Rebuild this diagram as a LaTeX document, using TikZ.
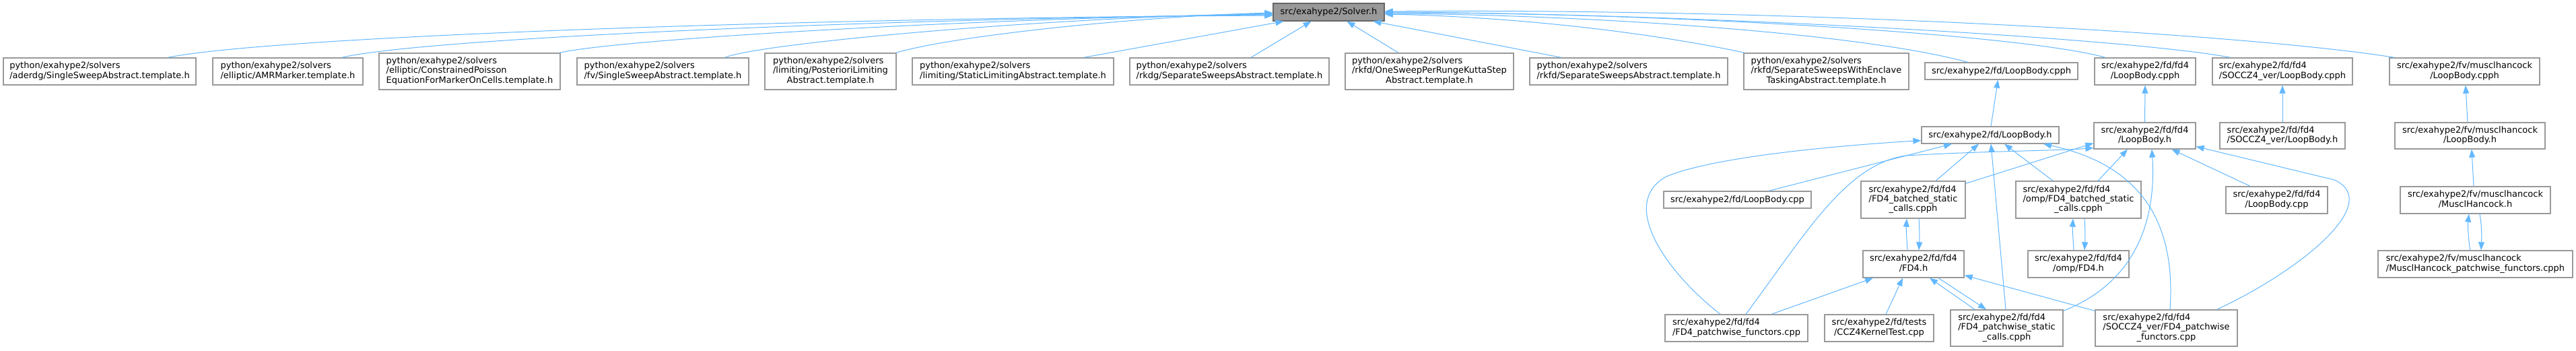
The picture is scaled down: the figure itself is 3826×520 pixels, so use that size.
\documentclass[tikz,border=0pt]{standalone}
\usepackage{fontspec}
\setmainfont{DejaVu Sans}
\usetikzlibrary{arrows.meta,calc}
\definecolor{edgeblue}{HTML}{63B8FF}
\definecolor{boxgray}{HTML}{999999}
\definecolor{solverfill}{HTML}{999999}
\definecolor{solverborder}{HTML}{666666}
\newcommand\ntxt[1]{\begin{tabular}{@{}l@{}}#1\end{tabular}}
\newcommand\lastln[1]{\multicolumn{1}{@{}c@{}}{#1}}
\tikzset{
  box/.style={draw=boxgray, line width=1.3pt, fill=white, inner sep=0pt,
    font=\fontsize{13}{14.3}\selectfont},
  hl/.style={box, minimum height=25pt},
  h2/.style={box, minimum height=40pt},
  h3/.style={box, minimum height=54pt},
  edge/.style={draw=edgeblue, line width=1pt, -{Triangle[length=12pt,width=9pt]}},
}
\begin{document}
\begin{tikzpicture}[x=1pt,y=-1pt]
\fill[white] (0,0) rectangle (3826,520);
\path[use as bounding box] (0,0) rectangle (3826,520);

% top
\node[box, fill=solverfill, draw=solverborder, minimum width=165pt, minimum height=26pt] (Solver) at (1973.5,18) {src/exahype2/Solver.h};

% row 2
\node[h2, minimum width=286pt] (aderdg) at (148,106) {\ntxt{python/exahype2/solvers\\\lastln{/aderdg/SingleSweepAbstract.template.h}}};
\node[h2, minimum width=223pt] (amr) at (427.5,106) {\ntxt{python/exahype2/solvers\\\lastln{/elliptic/AMRMarker.template.h}}};
\node[h3, minimum width=269pt] (cons) at (697.5,106) {\ntxt{python/exahype2/solvers\\/elliptic/ConstrainedPoisson\\\lastln{EquationForMarkerOnCells.template.h}}};
\node[h2, minimum width=255pt] (fv) at (984.5,106) {\ntxt{python/exahype2/solvers\\\lastln{/fv/SingleSweepAbstract.template.h}}};
\node[h3, minimum width=195pt] (post) at (1233.5,106) {\ntxt{python/exahype2/solvers\\/limiting/PosterioriLimiting\\\lastln{Abstract.template.h}}};
\node[h2, minimum width=299pt] (stat) at (1504.5,106) {\ntxt{python/exahype2/solvers\\\lastln{/limiting/StaticLimitingAbstract.template.h}}};
\node[h2, minimum width=296pt] (rkdg) at (1826,106) {\ntxt{python/exahype2/solvers\\\lastln{/rkdg/SeparateSweepsAbstract.template.h}}};
\node[h3, minimum width=250pt] (one) at (2123,106) {\ntxt{python/exahype2/solvers\\/rkfd/OneSweepPerRungeKuttaStep\\\lastln{Abstract.template.h}}};
\node[h2, minimum width=294pt] (rksep) at (2419,106) {\ntxt{python/exahype2/solvers\\\lastln{/rkfd/SeparateSweepsAbstract.template.h}}};
\node[h3, minimum width=245pt] (encl) at (2712.5,106) {\ntxt{python/exahype2/solvers\\/rkfd/SeparateSweepsWithEnclave\\\lastln{TaskingAbstract.template.h}}};
\node[hl, minimum width=227pt] (fdLBcpph) at (2972.5,105.5) {src/exahype2/fd/LoopBody.cpph};
\node[h2, minimum width=150pt] (fdfLBcpph) at (3186,106) {\ntxt{src/exahype2/fd/fd4\\\lastln{/LoopBody.cpph}}};
\node[h2, minimum width=208pt] (socLBcpph) at (3390,106) {\ntxt{src/exahype2/fd/fd4\\\lastln{/SOCCZ4\_ver/LoopBody.cpph}}};
\node[h2, minimum width=223pt] (muscLBcpph) at (3660.5,106) {\ntxt{src/exahype2/fv/musclhancock\\\lastln{/LoopBody.cpph}}};

% row 3
\node[hl, minimum width=204pt] (fdLBh) at (2956,200.5) {src/exahype2/fd/LoopBody.h};
\node[box, minimum height=39pt, minimum width=151pt] (fdfLBh) at (3185.5,201.5) {\ntxt{src/exahype2/fd/fd4\\\lastln{/LoopBody.h}}};
\node[box, minimum height=39pt, minimum width=186pt] (socLBh) at (3390,201.5) {\ntxt{src/exahype2/fd/fd4\\\lastln{/SOCCZ4\_ver/LoopBody.h}}};
\node[box, minimum height=39pt, minimum width=223pt] (muscLBh) at (3668.5,201.5) {\ntxt{src/exahype2/fv/musclhancock\\\lastln{/LoopBody.h}}};

% row 4
\node[hl, minimum width=219pt] (fdLBcpp) at (2580.5,296.5) {src/exahype2/fd/LoopBody.cpp};
\node[box, minimum height=55pt, minimum width=155pt] (batched) at (2841.5,296.5) {\ntxt{src/exahype2/fd/fd4\\/FD4\_batched\_static\\\lastln{\_calls.cpph}}};
\node[box, minimum height=55pt, minimum width=186pt] (ompbatched) at (3087,296.5) {\ntxt{src/exahype2/fd/fd4\\/omp/FD4\_batched\_static\\\lastln{\_calls.cpph}}};
\node[h2, minimum width=151pt] (fdfLBcpp) at (3381.5,297) {\ntxt{src/exahype2/fd/fd4\\\lastln{/LoopBody.cpp}}};
\node[h2, minimum width=223pt] (muscH) at (3676.5,297) {\ntxt{src/exahype2/fv/musclhancock\\\lastln{/MusclHancock.h}}};

% row 5
\node[h2, minimum width=150pt] (fdfh) at (2842,392) {\ntxt{src/exahype2/fd/fd4\\\lastln{/FD4.h}}};
\node[h2, minimum width=150pt] (ompfdfh) at (3087,392) {\ntxt{src/exahype2/fd/fd4\\\lastln{/omp/FD4.h}}};
\node[h2, minimum width=289pt] (muscPatch) at (3676.5,392) {\ntxt{src/exahype2/fv/musclhancock\\\lastln{/MusclHancock\_patchwise\_functors.cpph}}};

% row 6
\node[h2, minimum width=212pt] (fdfpf) at (2579,487) {\ntxt{src/exahype2/fd/fd4\\\lastln{/FD4\_patchwise\_functors.cpp}}};
\node[h2, minimum width=162pt] (ccz) at (2791,487) {\ntxt{src/exahype2/fd/tests\\\lastln{/CCZ4KernelTest.cpp}}};
\node[h3, minimum width=167pt] (fdfpsc) at (2980.5,487) {\ntxt{src/exahype2/fd/fd4\\/FD4\_patchwise\_static\\\lastln{\_calls.cpph}}};
\node[h3, minimum width=211pt] (socpf) at (3217.5,487) {\ntxt{src/exahype2/fd/fd4\\/SOCCZ4\_ver/FD4\_patchwise\\\lastln{\_functors.cpp}}};

% ---- edges to Solver.h
\draw[edge] ($(aderdg.north)+(101,0)$) .. controls (420,52) and (1250,26) .. ($(Solver.west)+(0,5)$);
\draw[edge] ($(amr.north)+(80,0)$) .. controls (640,55) and (1350,27) .. ($(Solver.west)+(0,4)$);
\draw[edge] ($(cons.north east)+(-2,0)$) .. controls (920,58) and (1450,27) .. ($(Solver.west)+(0,3)$);
\draw[edge] ($(fv.north)+(92,0)$) .. controls (1130,64) and (1550,26) .. ($(Solver.west)+(0,2)$);
\draw[edge] ($(post.north east)+(-1,0)$) .. controls (1420,52) and (1700,24) .. ($(Solver.west)+(0,1)$);
\draw[edge] ($(stat.north)+(105,0)$) -- ($(Solver.south)+(-67,0)$);
\draw[edge] ($(rkdg.north)+(32,0)$) -- ($(Solver.south)+(-26,0)$);
\draw[edge] ($(one.north)+(-46,0)$) -- ($(Solver.south)+(27,0)$);
\draw[edge] ($(rksep.north)+(-100,0)$) -- ($(Solver.south)+(66,0)$);
\draw[edge] ($(encl.north west)+(2,0)$) .. controls (2450,48) and (2250,25) .. ($(Solver.east)+(0,3)$);
\draw[edge] ($(fdLBcpph.north)+(-50,0)$) .. controls (2760,48) and (2350,22) .. ($(Solver.east)+(0,2)$);
\draw[edge] ($(fdfLBcpph.north)+(-59,0)$) .. controls (3000,50) and (2450,18) .. ($(Solver.east)+(0,1)$);
\draw[edge] ($(socLBcpph.north)+(-77,0)$) .. controls (3150,55) and (2500,20) .. ($(Solver.east)+(0,0)$);
\draw[edge] ($(muscLBcpph.north)+(-104,0)$) .. controls (3320,48) and (2650,12) .. ($(Solver.east)+(0,-1)$);

% ---- lower edges
\draw[edge] ($(fdLBh.north)+(1,0)$) -- ($(fdLBcpph.south)+(-5,0)$);
\draw[edge] (fdfLBh.north) -- (fdfLBcpph.south);
\draw[edge] (socLBh.north) -- (socLBcpph.south);
\draw[edge] ($(muscLBh.north)+(-3.5,0)$) -- ($(muscLBcpph.south)+(1.5,0)$);
\draw[edge] ($(muscH.north)+(-2.5,0)$) -- ($(muscLBh.south)+(2.5,0)$);
\draw[edge] ($(muscPatch.north)+(-8,0)$) .. controls (3666,350) and (3665,335) .. ($(muscH.south)+(-9.5,0)$);
\draw[edge] ($(muscH.south)+(6.5,0)$) .. controls (3686,335) and (3686,350) .. ($(muscPatch.north)+(8.5,0)$);

\draw[edge] ($(fdLBcpp.north)+(46.5,0)$) -- ($(fdLBh.south)+(-57,0)$);
\draw[edge] ($(batched.north)+(33.5,0)$) -- ($(fdLBh.south)+(-17,0)$);
\draw[edge] ($(batched.north east)+(0,4)$) -- ($(fdfLBh.west)+(0,11)$);
\draw[edge] ($(ompbatched.north)+(-38,0)$) -- ($(fdLBh.south)+(21,0)$);
\draw[edge] ($(ompbatched.north)+(29,0)$) -- ($(fdfLBh.south)+(-25.5,0)$);
\draw[edge] ($(fdfpsc.north)+(-1.5,0)$) -- ($(fdLBh.south)+(1,0)$);
\draw[edge] ($(fdfpsc.north east)+(0,2)$) .. controls (3170,420) and (3203,330) .. ($(fdfLBh.south)+(10.5,0)$);
\draw[edge] ($(socpf.north)+(5.5,0)$) .. controls (3232,330) and (3180,245) .. ($(fdLBh.south)+(79,0)$);
\draw[edge] ($(socpf.north east)+(-31,0)$) .. controls (3420,400) and (3540,300) .. (3467,267) -- ($(fdfLBh.east)+(0,16)$);
\draw[edge] ($(fdfLBcpp.north)+(-39.5,0)$) -- ($(fdfLBh.south)+(40,0)$);

\draw[edge] ($(fdfpf.north)+(-24,0)$) .. controls (2470,400) and (2405,300) .. (2475,262) .. controls (2540,235) and (2700,218) .. ($(fdLBh.west)+(0,8)$);
\draw[edge] ($(fdfpf.north)+(14,0)$) .. controls (2680,350) and (2740,245) .. (2830,231) .. controls (2950,224) and (3050,224) .. ($(fdfLBh.south west)+(0,-2)$);
\draw[edge] ($(fdfpf.north)+(52,0)$) -- ($(fdfh.south)+(-60,0)$);
\draw[edge] ($(ccz.north)+(10,0)$) -- ($(fdfh.south)+(-16,0)$);
\draw[edge] ($(fdfh.south)+(37,0)$) -- ($(fdfpsc.north)+(-30.5,0)$);
\draw[edge] ($(fdfpsc.north)+(-47.5,0)$) -- ($(fdfh.south)+(24,0)$);
\draw[edge] ($(socpf.north west)+(0,2)$) -- ($(fdfh.south east)+(0,-4)$);

\draw[edge] ($(fdfh.north)+(-9,0)$) .. controls (2832,355) and (2831,340) .. ($(batched.south)+(-9.5,0)$);
\draw[edge] ($(batched.south)+(8.5,0)$) .. controls (2851,340) and (2851,355) .. ($(fdfh.north)+(8,0)$);
\draw[edge] ($(ompfdfh.north)+(-7,0)$) .. controls (3079,355) and (3078,340) .. ($(ompbatched.south)+(-8,0)$);
\draw[edge] ($(ompbatched.south)+(9,0)$) .. controls (3097,340) and (3097,355) .. ($(ompfdfh.north)+(9,0)$);
\end{tikzpicture}
\end{document}
